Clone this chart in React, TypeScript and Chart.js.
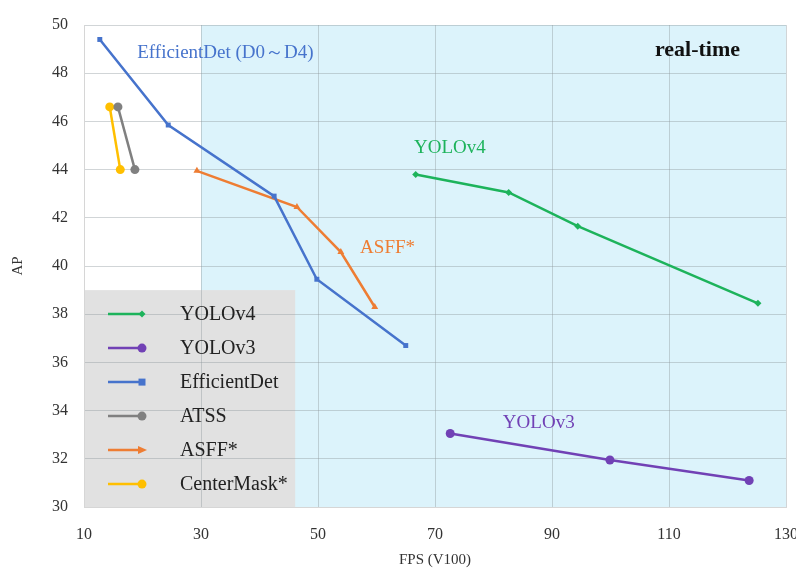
import React, { useEffect, useRef } from "react";
import { Chart, registerables } from "chart.js";

Chart.register(...registerables);

const seriesNames = ["YOLOv4", "YOLOv3", "EfficientDet", "ATSS", "ASFF*", "CenterMask*"];
const seriesColors = ["#1db35b", "#7141b5", "#4673cc", "#808080", "#ee7d33", "#ffbf00"];
const seriesMarkers = ["rectRot", "circle", "rect", "circle", "triangle", "circle"];
const seriesRadius = [3.5, 4.5, 3.5, 4.5, 4, 4.5];

const yolov4FPS = [66.7, 82.6, 94.4, 125.2];
const yolov4AP = [43.8, 43.05, 41.65, 38.45];
const yolov3FPS = [72.6, 99.9, 123.7];
const yolov3AP = [33.05, 31.95, 31.1];
const effdetFPS = [12.7, 24.4, 42.5, 49.8, 65.0];
const effdetAP = [49.4, 45.85, 42.9, 39.45, 36.7];
const atssFPS = [15.8, 18.7];
const atssAP = [46.6, 44.0];
const asffFPS = [29.3, 46.4, 53.9, 59.7];
const asffAP = [43.95, 42.45, 40.58, 38.3];
const centerMaskFPS = [14.4, 16.2];
const centerMaskAP = [46.6, 44.0];

const xTicks = [10, 30, 50, 70, 90, 110, 130];
const yTicks = [30, 32, 34, 36, 38, 40, 42, 44, 46, 48, 50];

const realTimeFrom = 30;
const legendBoxX = [10, 46.1];
const legendBoxY = [30, 39.0];

const annotations = [
  { text: "EfficientDet (D0～D4)", x: 19.1, y: 48.85, color: "#4673cc", bold: false, size: 19 },
  { text: "YOLOv4", x: 66.4, y: 44.9, color: "#1db35b", bold: false, size: 19 },
  { text: "ASFF*", x: 57.2, y: 40.75, color: "#ee7d33", bold: false, size: 19 },
  { text: "YOLOv3", x: 81.6, y: 33.5, color: "#7141b5", bold: false, size: 19 },
  { text: "real-time", x: 107.6, y: 48.95, color: "#111111", bold: true, size: 22 },
];

const serif = "'Liberation Serif', 'Times New Roman', serif";

const allFPS = [yolov4FPS, yolov3FPS, effdetFPS, atssFPS, asffFPS, centerMaskFPS];
const allAP = [yolov4AP, yolov3AP, effdetAP, atssAP, asffAP, centerMaskAP];

export default function App() {
  const ref = useRef<HTMLCanvasElement>(null);
  useEffect(() => {
    if (!ref.current) return;
    const datasets = seriesNames.map((name, i) => ({
      label: name,
      data: allFPS[i].map((x, j) => ({ x, y: allAP[i][j] })),
      borderColor: seriesColors[i],
      backgroundColor: seriesColors[i],
      borderWidth: 2.5,
      pointStyle: seriesMarkers[i] as any,
      pointRadius: seriesRadius[i],
      pointBorderWidth: 0,
      showLine: true,
      tension: 0,
    }));

    const bgPlugin = {
      id: "bg",
      beforeDraw(chart: any) {
        const { ctx, chartArea, scales } = chart;
        const xs = scales.x;
        const ys = scales.y;
        ctx.save();
        ctx.fillStyle = "#dcf3fb";
        const x0 = xs.getPixelForValue(realTimeFrom);
        ctx.fillRect(x0, chartArea.top, chartArea.right - x0, chartArea.bottom - chartArea.top);
        ctx.fillStyle = "#e1e1e1";
        const lx0 = xs.getPixelForValue(legendBoxX[0]);
        const lx1 = xs.getPixelForValue(legendBoxX[1]);
        const ly0 = ys.getPixelForValue(legendBoxY[1]);
        const ly1 = ys.getPixelForValue(legendBoxY[0]);
        ctx.fillRect(lx0, ly0, lx1 - lx0, ly1 - ly0);
        ctx.restore();
      },
      afterDatasetsDraw(chart: any) {
        const { ctx, scales, chartArea } = chart;
        const xs = scales.x;
        const ys = scales.y;
        ctx.save();
        annotations.forEach((a) => {
          ctx.font = `${a.bold ? "bold " : ""}${a.size}px ${serif}`;
          ctx.fillStyle = a.color;
          ctx.textAlign = "left";
          ctx.textBaseline = "middle";
          ctx.fillText(a.text, xs.getPixelForValue(a.x), ys.getPixelForValue(a.y));
        });
        const lx = xs.getPixelForValue(legendBoxX[0]);
        const top = ys.getPixelForValue(legendBoxY[1]);
        seriesNames.forEach((name, i) => {
          const y = top + 24 + i * 34;
          const x1 = lx + 24;
          const x2 = lx + 58;
          ctx.strokeStyle = seriesColors[i];
          ctx.lineWidth = 2.5;
          ctx.beginPath();
          ctx.moveTo(x1, y);
          ctx.lineTo(x2, y);
          ctx.stroke();
          ctx.fillStyle = seriesColors[i];
          const r = seriesRadius[i];
          const m = seriesMarkers[i];
          ctx.beginPath();
          if (m === "circle") {
            ctx.arc(x2, y, r, 0, Math.PI * 2);
          } else if (m === "rect") {
            ctx.rect(x2 - r, y - r, 2 * r, 2 * r);
          } else if (m === "rectRot") {
            ctx.moveTo(x2 - r, y);
            ctx.lineTo(x2, y - r);
            ctx.lineTo(x2 + r, y);
            ctx.lineTo(x2, y + r);
            ctx.closePath();
          } else {
            ctx.moveTo(x2 + r + 1, y);
            ctx.lineTo(x2 - r, y - r);
            ctx.lineTo(x2 - r, y + r);
            ctx.closePath();
          }
          ctx.fill();
          ctx.font = `20px ${serif}`;
          ctx.fillStyle = "#222";
          ctx.textAlign = "left";
          ctx.textBaseline = "middle";
          ctx.fillText(name, lx + 96, y + 1);
        });
        ctx.font = `15px ${serif}`;
        ctx.fillStyle = "#333";
        ctx.textAlign = "center";
        ctx.textBaseline = "middle";
        ctx.fillText("FPS (V100)", (chartArea.left + chartArea.right) / 2, 560);
        ctx.translate(18, (chartArea.top + chartArea.bottom) / 2);
        ctx.rotate(-Math.PI / 2);
        ctx.fillText("AP", 0, 0);
        ctx.restore();
      },
    };

    const chart = new Chart(ref.current, {
      type: "scatter",
      data: { datasets: datasets as any },
      plugins: [bgPlugin],
      options: {
        animation: false,
        responsive: false,
        maintainAspectRatio: false,
        layout: { padding: { top: 25, right: 10, left: 0, bottom: 0 } },
        plugins: { legend: { display: false }, tooltip: { enabled: false } },
        scales: {
          x: {
            type: "linear",
            min: 10,
            max: 130,
            afterBuildTicks: (s: any) => {
              s.ticks = xTicks.map((v) => ({ value: v }));
            },
            afterFit: (s: any) => {
              s.height = 62;
              s.paddingLeft = 0;
              s.paddingRight = 0;
            },
            grid: { color: "rgba(140,150,155,0.4)", drawTicks: false, lineWidth: 1 },
            border: { display: true, color: "#d6d6d6" },
            ticks: {
              padding: 18,
              color: "#333",
              font: { family: serif, size: 16 },
              maxRotation: 0,
            },
          },
          y: {
            type: "linear",
            min: 30,
            max: 50,
            afterBuildTicks: (s: any) => {
              s.ticks = yTicks.map((v) => ({ value: v }));
            },
            afterFit: (s: any) => {
              s.width = 84;
              s.paddingTop = 0;
              s.paddingBottom = 0;
            },
            grid: { color: "rgba(140,150,155,0.4)", drawTicks: false, lineWidth: 1 },
            border: { display: true, color: "#d6d6d6" },
            ticks: {
              padding: 16,
              color: "#333",
              font: { family: serif, size: 16 },
            },
          },
        },
      },
    });
    return () => chart.destroy();
  }, []);
  return (
    <div style={{ position: "fixed", left: 0, top: 0, width: 796, height: 569, background: "#fff" }}>
      <canvas ref={ref} width={796} height={569} style={{ width: 796, height: 569 }} />
    </div>
  );
}
